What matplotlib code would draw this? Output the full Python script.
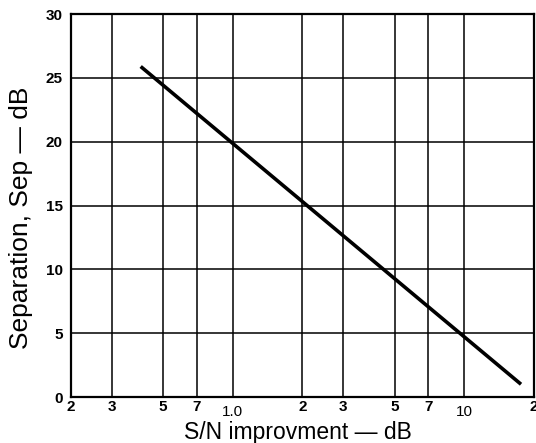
import matplotlib.pyplot as plt
import numpy as np

# S/N improvement (dB) vs separation (dB)
sn_improvement = [0.40, 17.6]
separation = [25.9, 1.0]

major_ticks = [0.2, 0.3, 0.5, 0.7, 2, 3, 5, 7, 20]
major_labels = ['2', '3', '5', '7', '2', '3', '5', '7', '2']
minor_ticks = [1.0, 10]
minor_labels = ['1.0', '10']
y_ticks = [0, 5, 10, 15, 20, 25, 30]

plt.rcParams['font.family'] = ['Liberation Sans', 'DejaVu Sans']

fig = plt.figure(figsize=(5.36, 4.43), dpi=100)
ax = fig.add_axes([0.1325, 0.1038, 0.8635, 0.8642])

ax.set_xscale('log')
ax.set_xlim(0.2, 20)
ax.set_ylim(0, 30)

# grid lines at every labelled position
for x in major_ticks + minor_ticks:
    ax.axvline(x, color='black', lw=1.1, zorder=1)
for y in y_ticks:
    ax.axhline(y, color='black', lw=1.1, zorder=1)

ax.plot(sn_improvement, separation, color='black', lw=2.6, solid_capstyle='butt', zorder=3)

ax.set_xticks(major_ticks)
ax.set_xticklabels(major_labels, fontweight='bold', fontsize=11)
ax.set_xticks(minor_ticks, minor=True)
ax.set_xticklabels(minor_labels, minor=True, fontsize=11)
ax.tick_params(axis='x', which='major', length=0, pad=2)
ax.tick_params(axis='x', which='minor', length=0, pad=6)

ax.set_yticks(y_ticks)
ax.set_yticklabels([str(v) for v in y_ticks], fontweight='bold', fontsize=11)
ax.tick_params(axis='y', length=0, pad=6)

for s in ax.spines.values():
    s.set_linewidth(1.6)
    s.set_color('black')

ax.set_xlabel('S/N improvment \u2014 dB', fontsize=16.5)
ax.xaxis.set_label_coords(0.49, -0.063)
ax.set_ylabel('Separation, Sep \u2014 dB', fontsize=19)
ax.yaxis.set_label_coords(-0.083, 0.469)

fig.savefig('out.png', dpi=100)
